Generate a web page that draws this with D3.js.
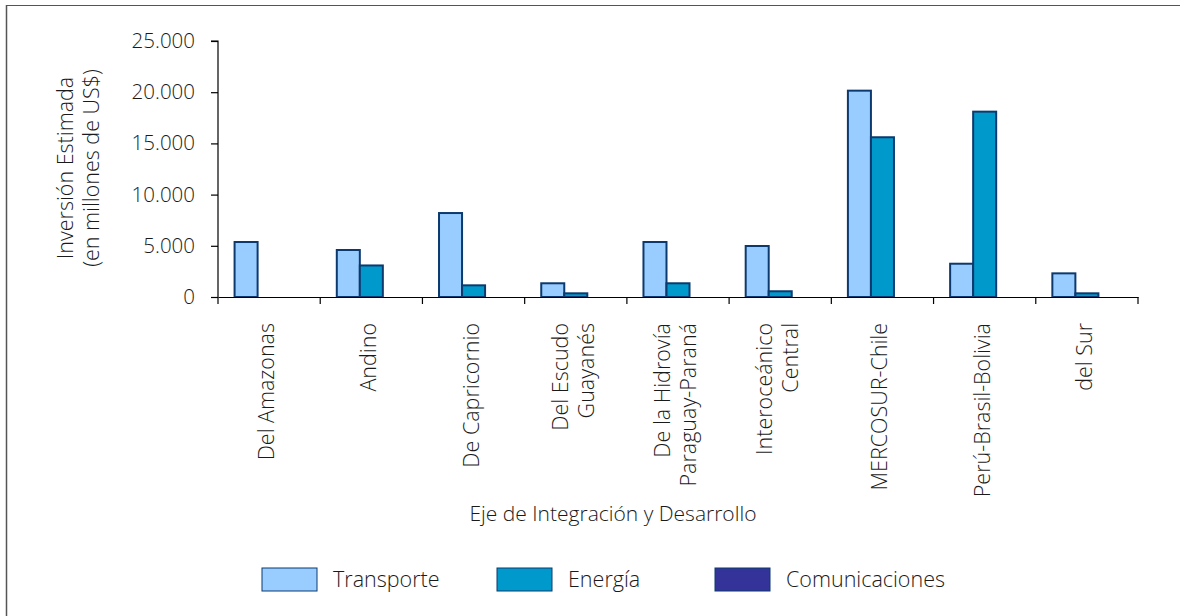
<!DOCTYPE html>
<html><head><meta charset="utf-8">
<script src="https://cdn.jsdelivr.net/npm/d3@7/dist/d3.min.js"></script>
<style>
html,body{margin:0;padding:0;background:#fff;}
svg{display:block;font-family:"Open Sans",sans-serif;}
</style></head>
<body><svg id="c" width="1180" height="616"></svg>
<script>
const categories = [["Del Amazonas"],["Andino"],["De Capricornio"],["Del Escudo","Guayanés"],["De la Hidrovía","Paraguay-Paraná"],["Interoceánico","Central"],["MERCOSUR-Chile"],["Perú-Brasil-Bolivia"],["del Sur"]];
const seriesNames = ["Transporte","Energía","Comunicaciones"];
const transporte = [5370, 4590, 8200, 1340, 5370, 4980, 20150, 3250, 2310];
const energia = [0, 3080, 1140, 360, 1340, 560, 15600, 18100, 360];
const comunicaciones = [0, 0, 0, 0, 0, 0, 0, 0, 0];
const yTicks = [0, 5000, 10000, 15000, 20000, 25000];
const yTickLabels = ["0","5.000","10.000","15.000","20.000","25.000"];
const colors = ["#99ccff","#0099cc","#333399"];

const svg = d3.select("#c");
const pLeft = 218, pRight = 1138, pTop = 41, pBottom = 297;
const catIdx = categories.map((d,i)=>i);
const x0 = d3.scaleBand().domain(catIdx).range([pLeft,pRight]).padding(0);
const x1 = d3.scaleBand().domain(seriesNames).range([0,x0.bandwidth()]).paddingInner(0).paddingOuter(0.72);
const y = d3.scaleLinear().domain([0,25000]).range([pBottom,pTop]);

// frame
svg.append("line").attr("x1",6).attr("x2",1180).attr("y1",5.5).attr("y2",5.5).attr("stroke","#555").attr("stroke-width",1.2);
svg.append("line").attr("x1",6.5).attr("x2",6.5).attr("y1",5).attr("y2",616).attr("stroke","#555").attr("stroke-width",1.5);

// bars
const values = [transporte, energia, comunicaciones];
seriesNames.forEach((s,si)=>{
  svg.append("g").selectAll("rect").data(values[si].map((v,i)=>({v,i})).filter(d=>d.v>0)).join("rect")
    .attr("x",d=>x0(d.i)+x1(s))
    .attr("y",d=>y(d.v))
    .attr("width",x1.bandwidth())
    .attr("height",d=>y(0)-y(d.v))
    .attr("fill",colors[si])
    .attr("stroke","#0d3a6e").attr("stroke-width",2);
});

// y axis
const yAxis = d3.axisLeft(y).tickValues(yTicks).tickFormat((d,i)=>yTickLabels[i]).tickSize(7).tickPadding(16);
const gy = svg.append("g").attr("transform",`translate(${pLeft},0)`).call(yAxis);
gy.select(".domain").attr("stroke","#000").attr("stroke-width",1.2).attr("d",`M-7,${pTop}H0V${pBottom}`);
gy.selectAll(".tick line").attr("stroke","#000").attr("stroke-width",1.2);
gy.selectAll("text").attr("font-size",20.5).attr("font-weight",300).attr("fill","#1a1a1a").attr("font-family","Open Sans");

// x axis
const xAxis = d3.axisBottom(x0).tickValues([]).tickSize(0);
const gx = svg.append("g").attr("transform",`translate(0,${pBottom})`).call(xAxis);
gx.select(".domain").attr("stroke","#000").attr("stroke-width",1.2);
const bounds = catIdx.map(i=>x0(i)).concat([pRight]);
gx.selectAll("line.b").data(bounds).join("line").attr("class","b")
  .attr("x1",d=>d).attr("x2",d=>d).attr("y1",0).attr("y2",7).attr("stroke","#000").attr("stroke-width",1.2);

// category labels
const lineH = 26;
categories.forEach((lines,i)=>{
  const cx = x0(i)+x0.bandwidth()/2;
  const t = svg.append("text").attr("transform",`translate(${cx},323) rotate(-90)`)
    .attr("text-anchor","end").attr("font-size",21.5).attr("font-weight",300).attr("fill","#1a1a1a");
  const n = lines.length;
  lines.forEach((l,j)=>{
    t.append("tspan").attr("x",0).attr("y", 5 + (j-(n-1)/2)*lineH).text(l);
  });
});

// y title
const yt = svg.append("text").attr("transform",`translate(0,168) rotate(-90)`)
  .attr("text-anchor","middle").attr("font-size",21.5).attr("font-weight",300).attr("fill","#1a1a1a");
yt.append("tspan").attr("x",0).attr("y",73).text("Inversión Estimada");
yt.append("tspan").attr("x",0).attr("y",99).text("(en millones de US$)");

// x title
svg.append("text").attr("x",613).attr("y",521).attr("text-anchor","middle")
  .attr("font-size",21).attr("font-weight",300).attr("fill","#1a1a1a").text("Eje de Integración y Desarrollo");

// legend
const legX = [262, 497, 715];
const lg = svg.append("g").selectAll("g").data(seriesNames).join("g")
  .attr("transform",(d,i)=>`translate(${legX[i]},568)`);
lg.append("rect").attr("width",55).attr("height",23).attr("fill",(d,i)=>colors[i]).attr("stroke","#0d3a6e").attr("stroke-width",1);
lg.append("text").attr("x",71).attr("y",19).attr("font-size",21.5).attr("font-weight",300).attr("fill","#1a1a1a").text(d=>d);
</script></body></html>
